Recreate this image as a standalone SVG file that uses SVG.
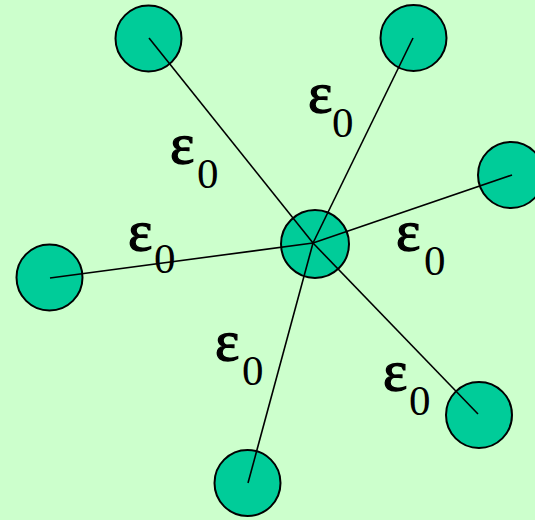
<svg xmlns="http://www.w3.org/2000/svg" width="535" height="520" viewBox="0 0 535 520">
<style>
.n{fill:#00cc99;stroke:#000;stroke-width:2}
.c line{stroke:#000;stroke-width:1.6}
.e{font-family:"Liberation Serif","Times New Roman",serif;font-size:58px;fill:#000;stroke:#000;stroke-width:1.3px}
.s{font-family:"Liberation Serif","Times New Roman",serif;font-size:43px;fill:#000;stroke:none}
</style>
<rect width="535" height="520" fill="#ccffcc"/>
<g id="center"><circle class="n" cx="315" cy="244" r="34"/></g>
<g id="n1"><circle class="n" cx="148.5" cy="38.5" r="33"/></g>
<g id="n2"><circle class="n" cx="413.5" cy="38" r="33"/></g>
<g id="n3"><circle class="n" cx="511" cy="175" r="33"/></g>
<g id="n4"><circle class="n" cx="49.5" cy="277.5" r="33"/></g>
<g id="n5"><circle class="n" cx="479" cy="415" r="33"/></g>
<g id="n6"><circle class="n" cx="247.5" cy="483" r="33"/></g>
<g id="connectors" class="c">
<line x1="313" y1="243" x2="149" y2="38"/>
<line x1="313" y1="243" x2="413" y2="38"/>
<line x1="313" y1="243" x2="512" y2="175"/>
<line x1="313" y1="243" x2="50" y2="278"/>
<line x1="313" y1="243" x2="478" y2="414"/>
<line x1="313" y1="243" x2="248" y2="483"/>
</g>
<g id="labels">
<text><tspan class="e" x="308" y="112">ε</tspan><tspan class="s" x="332" y="137">0</tspan></text>
<text><tspan class="e" x="170" y="163">ε</tspan><tspan class="s" x="197" y="188">0</tspan></text>
<text><tspan class="e" x="128" y="250">ε</tspan><tspan class="s" x="154" y="273">0</tspan></text>
<text><tspan class="e" x="396" y="250">ε</tspan><tspan class="s" x="424" y="275">0</tspan></text>
<text><tspan class="e" x="215" y="360">ε</tspan><tspan class="s" x="242" y="385">0</tspan></text>
<text><tspan class="e" x="383" y="390">ε</tspan><tspan class="s" x="409" y="415">0</tspan></text>
</g>
</svg>
